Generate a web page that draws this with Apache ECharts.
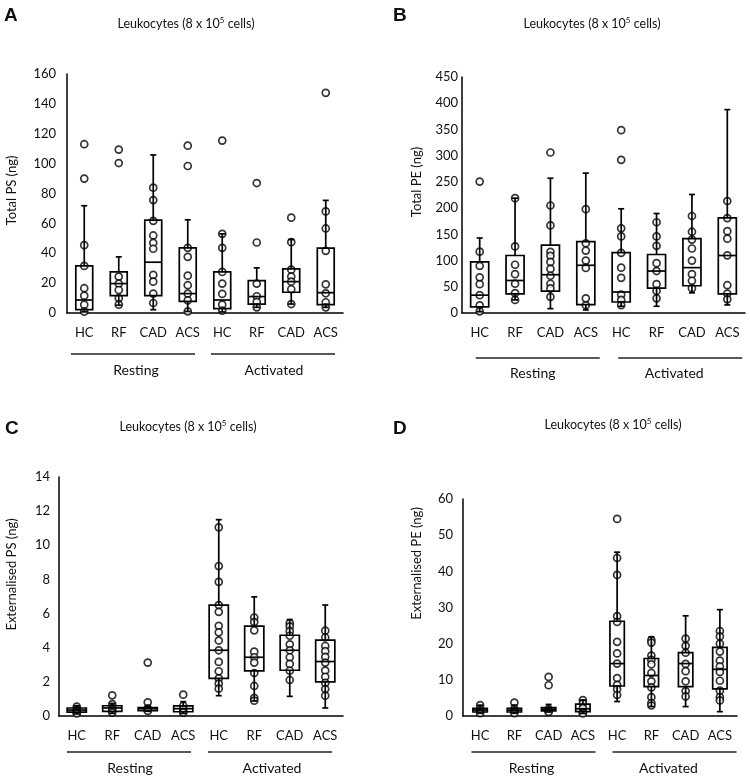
<!DOCTYPE html>
<html>
<head>
<meta charset="utf-8">
<script src="https://cdn.jsdelivr.net/npm/echarts@6/dist/echarts.min.js"></script>
<style>
html,body{margin:0;padding:0;background:#fff;}
#chart{width:750px;height:781px;}
</style>
</head>
<body>
<div id="chart"></div>
<script>
// ---------- DATA ----------
const categories = ['HC', 'RF', 'CAD', 'ACS', 'HC', 'RF', 'CAD', 'ACS'];
const groups = ['Resting', 'Activated'];
const titleText = 'Leukocytes (8 x 10';
const titleSup = '5';
const titleEnd = ' cells)';

// boxes: [whisker min, Q1, median, Q3, whisker max]
const totalPSBoxes = [
  [0.8, 2.2, 8.7, 31.5, 71.8],
  [5.2, 11.6, 19.7, 27.5, 37.6],
  [2.2, 11.6, 34, 62.2, 105.8],
  [1.1, 7.8, 13, 43.6, 62.4],
  [0.7, 2.9, 8.7, 27.5, 53],
  [3.8, 6, 11, 21.7, 30.2],
  [6, 13.9, 21, 29.5, 49.2],
  [3.8, 5.6, 13.6, 43.4, 75.4]
];
const totalPSPoints = [
  [113, 90, 45.4, 31.5, 16.6, 11.6, 5.6, 0.9],
  [109.4, 100.4, 24.4, 19.7, 15.4, 10, 5.6],
  [83.9, 75.6, 61.7, 51.9, 47, 43, 25.5, 21, 13, 6.7],
  [112, 98.4, 43.6, 37.6, 25, 18.6, 13, 8.5, 1.1],
  [115.4, 53, 43.6, 27.5, 19.7, 12.8, 5.6, 1.6],
  [87, 47.2, 19.7, 11.2, 7.4, 3.8],
  [63.8, 47.4, 29, 24.4, 21, 15.9, 6],
  [147.4, 68, 56.6, 41.6, 19.2, 13.2, 7.2, 3.8]
];

const totalPEBoxes = [
  [2.6, 11.5, 34, 97.5, 143],
  [25, 36.5, 62, 109.6, 219],
  [8.3, 41.7, 73, 129.5, 257],
  [5.8, 16, 91, 136, 266.7],
  [12.8, 21, 40, 115, 198.7],
  [12.8, 47.4, 80, 111.5, 189.7],
  [38.5, 52, 86.5, 142, 226],
  [15.4, 36.5, 109.6, 181.4, 387.8]
];
const totalPEPoints = [
  [250.6, 117, 90, 68, 55, 34, 14.7, 3.2],
  [219, 127, 92, 74, 56, 38, 25],
  [306, 205, 167, 116.7, 109, 97.4, 84, 71, 55.8, 47, 30.8],
  [198, 133, 119, 100, 86, 28, 14.7],
  [348.7, 292, 161.5, 146, 114.7, 86.5, 67, 35, 25, 15],
  [173, 146, 128, 95, 80, 55, 42, 28],
  [185, 155, 140, 123, 100, 74, 61.5, 47.4],
  [213.5, 181, 156, 141.7, 110, 53, 37, 26]
];

const extPSBoxes = [
  [0.12, 0.23, 0.35, 0.47, 0.59],
  [0.16, 0.27, 0.47, 0.6, 0.74],
  [0.28, 0.31, 0.43, 0.49, 0.58],
  [0.16, 0.25, 0.43, 0.59, 0.84],
  [1.19, 2.2, 3.85, 6.5, 11.5],
  [0.88, 2.64, 3.44, 5.26, 6.98],
  [1.15, 2.68, 3.85, 4.73, 5.65],
  [0.47, 2.0, 3.19, 4.44, 6.5]
];
const extPSPoints = [
  [0.55, 0.4, 0.3, 0.2, 0.15],
  [1.21, 0.7, 0.5, 0.35, 0.2],
  [3.13, 0.8, 0.45, 0.35, 0.3],
  [1.25, 0.6, 0.4, 0.25, 0.2],
  [11.05, 8.78, 7.86, 6.5, 6.1, 5.28, 4.9, 4.42, 3.85, 3.17, 2.62, 2.2, 1.9, 1.6],
  [5.77, 5.5, 5.02, 3.77, 3.44, 3.13, 2.52, 1.76, 1.06, 0.9],
  [5.44, 5.25, 4.97, 4.7, 4.2, 3.85, 3.44, 3.05, 2.65, 2.11],
  [5.0, 4.6, 4.1, 3.8, 3.46, 3.13, 2.66, 2.3, 1.94, 1.58, 1.19]
];

const extPEBoxes = [
  [0.8, 1.1, 1.65, 2.1, 3.0],
  [0.8, 1.1, 1.6, 2.1, 3.0],
  [1.1, 1.4, 1.9, 2.3, 3.2],
  [0.7, 1.2, 2.0, 3.3, 4.4],
  [4.0, 8.3, 14.5, 26.2, 45.3],
  [2.6, 8.1, 11.2, 15.9, 21.9],
  [2.6, 8.1, 14.5, 17.5, 27.7],
  [1.2, 7.5, 12.9, 19, 29.4]
];
const extPEPoints = [
  [3.0, 1.8, 1.2, 0.8],
  [3.7, 2.0, 1.5, 0.8],
  [10.8, 8.5, 1.9, 1.3, 1.1],
  [4.4, 3.5, 2.2, 1.0, 0.7],
  [54.5, 43.7, 39, 27.6, 26, 20.5, 17.3, 14.5, 10.5, 8.6, 7.4, 5.8],
  [21, 20.3, 16.7, 15.5, 14.3, 11.9, 9.6, 7.9, 5.2, 3.6, 2.9],
  [21.4, 19.4, 17.5, 14.4, 12.4, 9.6, 6.9, 5.4],
  [23.5, 22, 20, 17.8, 15.3, 13.7, 12.2, 9.75, 7.0, 5.2, 4.3]
];

// ---------- LAYOUT ----------
const FONT = 'Lato';
const panels = [
  {letter: 'A', yName: 'Total PS (ng)', max: 160, interval: 20, boxes: totalPSBoxes, points: totalPSPoints,
   grid: {left: 67, top: 74, width: 276, height: 239}, tickMargin: 11, nameGap: 49, nameShift: 3, boxFrac: 0.49,
   groupOffset: 50, groupLineDy: 41, groupShift: [-3, -1], title: [186, 24], letterPos: [4, 16]},
  {letter: 'B', yName: 'Total PE (ng)', max: 450, interval: 50, boxes: totalPEBoxes, points: totalPEPoints,
   grid: {left: 462, top: 77, width: 283, height: 236}, tickMargin: 4, nameGap: 39, nameShift: 13, boxFrac: 0.51,
   groupOffset: 53, groupLineDy: 45, groupShift: [5, 6], title: [592, 24], letterPos: [393, 16]},
  {letter: 'C', yName: 'Externalised PS (ng)', max: 14, interval: 2, boxes: extPSBoxes, points: extPSPoints,
   grid: {left: 59, top: 477, width: 284, height: 239}, tickMargin: 9, nameGap: 41, nameShift: 22, boxFrac: 0.54,
   groupOffset: 45, groupLineDy: 36, groupShift: [-1, -2], title: [188, 427], letterPos: [5, 429]},
  {letter: 'D', yName: 'Externalised PE (ng)', max: 60, interval: 10, boxes: extPEBoxes, points: extPEPoints,
   grid: {left: 463, top: 499, width: 274, height: 217}, tickMargin: 10, nameGap: 40, nameShift: 44, boxFrac: 0.42,
   groupOffset: 45, groupLineDy: 36, groupShift: [2, 6], title: [613, 425], letterPos: [393, 429]}
];

const INK = '#000';
const TXT = '#111';

function makeRenderBox(frac) {
  return function (params, api) {
    const i = api.value(0);
    const pMin = api.coord([i, api.value(1)]);
    const pQ1 = api.coord([i, api.value(2)]);
    const pMed = api.coord([i, api.value(3)]);
    const pQ3 = api.coord([i, api.value(4)]);
    const pMax = api.coord([i, api.value(5)]);
    const bw = api.size([1, 0])[0] * frac;
    const cw = 6;
    const x = pMed[0];
    const st = {stroke: INK, lineWidth: 1.7, fill: 'none'};
    return {
      type: 'group',
      children: [
        {type: 'line', shape: {x1: x, y1: pQ3[1], x2: x, y2: pMax[1]}, style: st},
        {type: 'line', shape: {x1: x, y1: pQ1[1], x2: x, y2: pMin[1]}, style: st},
        {type: 'line', shape: {x1: x - cw / 2, y1: pMax[1], x2: x + cw / 2, y2: pMax[1]}, style: st},
        {type: 'line', shape: {x1: x - cw / 2, y1: pMin[1], x2: x + cw / 2, y2: pMin[1]}, style: st},
        {type: 'rect', shape: {x: x - bw / 2, y: pQ3[1], width: bw, height: pQ1[1] - pQ3[1]}, style: st},
        {type: 'line', shape: {x1: x - bw / 2, y1: pMed[1], x2: x + bw / 2, y2: pMed[1]}, style: st}
      ]
    };
  };
}

const grids = [], xAxes = [], yAxes = [], series = [];
panels.forEach((p, k) => {
  grids.push(Object.assign({containLabel: false}, p.grid));
  xAxes.push({
    gridIndex: k, type: 'category', data: categories, boundaryGap: true,
    axisLine: {lineStyle: {color: INK, width: 1.5}},
    axisTick: {show: false},
    axisLabel: {color: TXT, fontSize: 13, fontFamily: FONT, margin: 13, interval: 0}
  });
  xAxes.push({
    gridIndex: k, type: 'category', data: groups, position: 'bottom', offset: p.groupOffset,
    axisLine: {show: false}, axisTick: {show: false},
    axisLabel: {color: TXT, fontSize: 14, fontFamily: FONT, margin: 0, verticalAlign: 'top'}
  });
  yAxes.push({
    gridIndex: k, type: 'value', min: 0, max: p.max, interval: p.interval,
    name: p.yName, nameLocation: 'middle', nameGap: p.nameGap,
    nameTextStyle: {color: TXT, fontSize: 13, fontFamily: FONT, padding: [0, 0, 0, 2 * p.nameShift]},
    axisLine: {show: true, lineStyle: {color: INK, width: 1.5}},
    axisTick: {show: false},
    splitLine: {show: false},
    axisLabel: {color: TXT, fontSize: 13, fontFamily: FONT, margin: p.tickMargin}
  });
  const pts = [];
  p.points.forEach((arr, i) => arr.forEach(v => pts.push([i, v])));
  series.push({
    type: 'scatter', xAxisIndex: 2 * k, yAxisIndex: k, data: pts, z: 2,
    symbol: 'circle', symbolSize: 7,
    itemStyle: {color: '#fff', borderColor: INK, borderWidth: 1.7},
    silent: true
  });
  series.push({
    type: 'custom', xAxisIndex: 2 * k, yAxisIndex: k, z: 3,
    data: p.boxes.map((b, i) => [i].concat(b)),
    encode: {x: 0, y: [1, 2, 3, 4, 5]},
    renderItem: makeRenderBox(p.boxFrac),
    silent: true
  });
});

const chart = echarts.init(document.getElementById('chart'), null, {renderer: 'canvas'});
chart.setOption({
  animation: false,
  backgroundColor: '#fff',
  textStyle: {fontFamily: FONT},
  grid: grids, xAxis: xAxes, yAxis: yAxes, series: series
});

// Titles, panel letters and group underlines
const graphics = [];
panels.forEach((p, k) => {
  graphics.push({
    type: 'text', x: p.title[0], y: p.title[1],
    style: {
      text: '{a|' + titleText + '}{s|' + titleSup + '}{a|' + titleEnd + '}',
      align: 'center', verticalAlign: 'middle',
      rich: {
        a: {fontSize: 12.5, fontFamily: FONT, fill: TXT, lineHeight: 15},
        s: {fontSize: 8, fontFamily: FONT, fill: TXT, lineHeight: 9, verticalAlign: 'top'}
      }
    }
  });
  graphics.push({
    type: 'text', x: p.letterPos[0], y: p.letterPos[1],
    style: {text: p.letter, fontSize: 19, fontWeight: 'bold', fontFamily: 'Liberation Sans', fill: '#111',
            align: 'left', verticalAlign: 'middle'}
  });
  const y0 = p.grid.top + p.grid.height + p.groupLineDy;
  [[0, 3], [4, 7]].forEach((rng, gi) => {
    const a = chart.convertToPixel({xAxisIndex: 2 * k}, rng[0]);
    const b = chart.convertToPixel({xAxisIndex: 2 * k}, rng[1]);
    const c = (a + b) / 2 + p.groupShift[gi];
    graphics.push({
      type: 'line', shape: {x1: c - 62, y1: y0, x2: c + 62, y2: y0},
      style: {stroke: '#222', lineWidth: 1.5}
    });
  });
});
chart.setOption({graphic: graphics});
</script>
</body>
</html>
